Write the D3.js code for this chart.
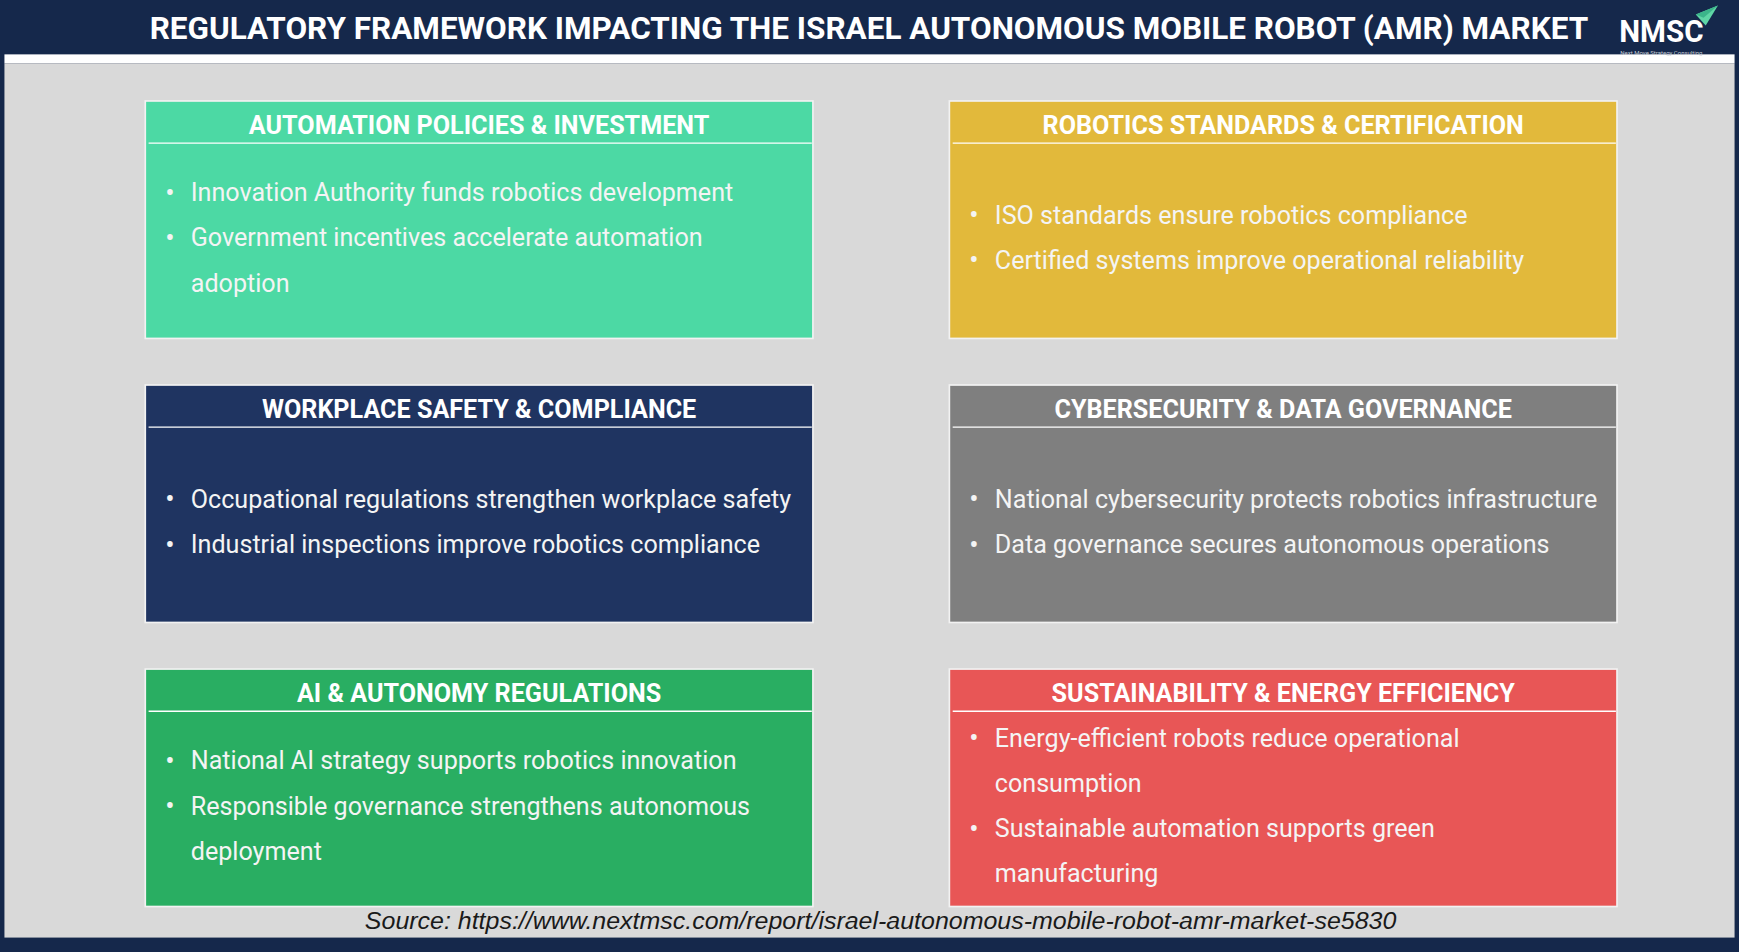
<!DOCTYPE html>
<html>
<head>
<meta charset="utf-8">
<script src="https://cdn.jsdelivr.net/npm/d3@7"></script>
<style>
	body { margin: 0; background: #15284b; overflow: hidden; }
	svg { display: block; }
</style>
</head>
<body>
<script>
const chartTitle = 'REGULATORY FRAMEWORK IMPACTING THE ISRAEL AUTONOMOUS MOBILE ROBOT (AMR) MARKET';
const sourceText = 'Source: https://www.nextmsc.com/report/israel-autonomous-mobile-robot-amr-market-se5830';

const boxTitles = [
	'AUTOMATION POLICIES & INVESTMENT',
	'ROBOTICS STANDARDS & CERTIFICATION',
	'WORKPLACE SAFETY & COMPLIANCE',
	'CYBERSECURITY & DATA GOVERNANCE',
	'AI & AUTONOMY REGULATIONS',
	'SUSTAINABILITY & ENERGY EFFICIENCY'
];

const boxColors = ['#4cd9a4', '#e2b93b', '#1f3461', '#7f7f7f', '#29ae62', '#e85656'];

// each bullet is a list of its wrapped lines
const boxBullets = [
	[['Innovation Authority funds robotics development'], ['Government incentives accelerate automation', 'adoption']],
	[['ISO standards ensure robotics compliance'], ['Certified systems improve operational reliability']],
	[['Occupational regulations strengthen workplace safety'], ['Industrial inspections improve robotics compliance']],
	[['National cybersecurity protects robotics infrastructure'], ['Data governance secures autonomous operations']],
	[['National AI strategy supports robotics innovation'], ['Responsible governance strengthens autonomous', 'deployment']],
	[['Energy-efficient robots reduce operational', 'consumption'], ['Sustainable automation supports green', 'manufacturing']]
];

(function () {
	"use strict";

	let w = 1568;
	let h = 858;

	let svg = d3.select('body').append('svg')
		.attr('width', 1739)
		.attr('height', 952)
		.attr('viewBox', `0 0 ${w} ${h}`)
		.attr('preserveAspectRatio', 'none');

	// squeeze text horizontally, the original uses a condensed face
	function squeeze(sel, k) {
		sel.each(function () {
			let len = this.getComputedTextLength();
			d3.select(this).attr('textLength', len * k).attr('lengthAdjust', 'spacingAndGlyphs');
		});
	}

	// frame
	svg.append('rect').attr('width', w).attr('height', h).attr('fill', '#15284b');
	svg.append('rect').attr('x', 4).attr('y', 49).attr('width', w - 8).attr('height', 8).attr('fill', '#ffffff');
	svg.append('rect').attr('x', 4).attr('y', 57).attr('width', w - 8).attr('height', 788).attr('fill', '#d9d9d9');

	// title
	svg.append('text')
		.attr('x', 783.5).attr('y', 26)
		.attr('text-anchor', 'middle').attr('dominant-baseline', 'central')
		.attr('font-family', 'Roboto, sans-serif').attr('font-weight', 700).attr('font-size', 28)
		.attr('fill', '#ffffff')
		.attr('textLength', 1297).attr('lengthAdjust', 'spacingAndGlyphs')
		.text(chartTitle);

	// logo
	let logo = svg.append('g');
	logo.append('text')
		.attr('x', 1460).attr('y', 38)
		.attr('font-family', 'Roboto, sans-serif').attr('font-weight', 700).attr('font-size', 29)
		.attr('fill', '#ffffff')
		.attr('textLength', 76).attr('lengthAdjust', 'spacingAndGlyphs')
		.text('NMSC');
	logo.append('path').attr('d', 'M1529,13 L1549,5 L1538,23 Z').attr('fill', '#5fd6a6');
	logo.append('path').attr('d', 'M1529,13 L1549,5 L1536,16 Z').attr('fill', '#3bb58a');
	logo.append('text')
		.attr('x', 1461).attr('y', 49.5)
		.attr('font-family', 'Roboto, sans-serif').attr('font-size', 5)
		.attr('fill', '#c8ccd4')
		.attr('textLength', 74).attr('lengthAdjust', 'spacingAndGlyphs')
		.text('Next Move Strategy Consulting');

	// grid of boxes
	let col = d3.scaleBand().domain([0, 1]).range([131, 1458]).paddingInner(0.1697);
	let row = d3.scaleBand().domain([0, 1, 2]).range([91, 817]).paddingInner(0.164);
	let bw = col.bandwidth();
	let bh = row.bandwidth();
	let headH = 38;
	let lineH = 40.6;

	let boxes = svg.selectAll('g.box')
		.data(boxTitles)
		.enter()
		.append('g')
		.attr('class', 'box')
		.attr('transform', (d, i) => `translate(${col(i % 2)},${row(Math.floor(i / 2))})`);

	boxes.append('rect')
		.attr('width', bw).attr('height', bh)
		.attr('fill', (d, i) => boxColors[i])
		.attr('stroke', '#f2f2f2').attr('stroke-width', 1.5);

	boxes.append('line')
		.attr('x1', 3).attr('x2', bw - 1)
		.attr('y1', headH).attr('y2', headH)
		.attr('stroke', '#ffffff').attr('stroke-width', 1.2);

	boxes.append('text')
		.attr('x', bw / 2).attr('y', 21)
		.attr('text-anchor', 'middle').attr('dominant-baseline', 'central')
		.attr('font-family', 'Roboto, sans-serif').attr('font-weight', 700).attr('font-size', 24)
		.attr('fill', '#ffffff')
		.text(d => d)
		.call(squeeze, 0.945);

	boxes.each(function (d, i) {
		let g = d3.select(this);
		let lines = [];
		boxBullets[i].forEach(b => b.forEach((t, j) => lines.push({ text: t, first: j === 0 })));
		let mid = (headH + bh) / 2 - 3;
		let y0 = mid - (lines.length - 1) / 2 * lineH;

		let ln = g.selectAll('g.line')
			.data(lines)
			.enter()
			.append('g')
			.attr('class', 'line')
			.attr('transform', (l, k) => `translate(0,${y0 + k * lineH})`);

		ln.filter(l => l.first).append('text')
			.attr('x', 18)
			.attr('dominant-baseline', 'central')
			.attr('font-family', 'Roboto, sans-serif').attr('font-size', 25)
			.attr('fill', '#f4f4f4')
			.text('\u2022');

		ln.append('text')
			.attr('x', 41)
			.attr('dominant-baseline', 'central')
			.attr('font-family', 'Roboto, sans-serif').attr('font-size', 23)
			.attr('fill', '#f4f4f4')
			.text(l => l.text)
			.call(squeeze, 0.985);
	});

	// source line
	svg.append('text')
		.attr('x', 794).attr('y', 830)
		.attr('text-anchor', 'middle').attr('dominant-baseline', 'central')
		.attr('font-family', '"Liberation Sans", Arial, sans-serif').attr('font-style', 'italic').attr('font-size', 21)
		.attr('fill', '#1a1a1a')
		.attr('textLength', 930).attr('lengthAdjust', 'spacingAndGlyphs')
		.text(sourceText);
})();
</script>
</body>
</html>
